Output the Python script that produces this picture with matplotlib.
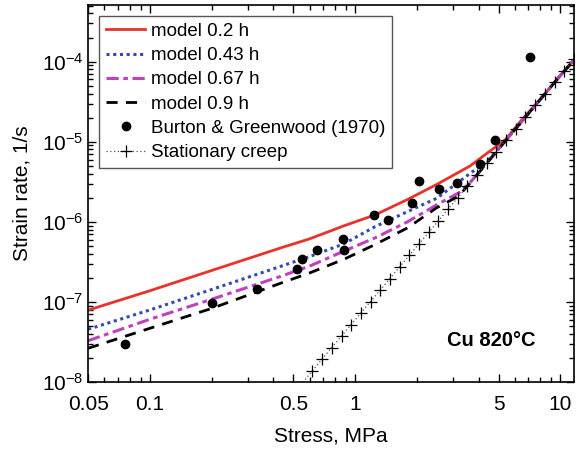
import numpy as np
import matplotlib
matplotlib.use("Agg")
import matplotlib.pyplot as plt
from matplotlib.ticker import LogLocator, NullFormatter, FixedLocator, FixedFormatter

plt.rcParams['font.family'] = ['Liberation Sans', 'DejaVu Sans']
plt.rcParams['mathtext.fontset'] = 'custom'
plt.rcParams['mathtext.rm'] = 'Liberation Sans'
plt.rcParams['mathtext.it'] = 'Liberation Sans:italic'

# model curves (stress in MPa, strain rate in 1/s)
stress_model = [0.05, 0.1, 0.2, 0.43, 0.6, 0.88, 1.25, 1.8, 2.5, 3.2, 3.64,
                4.4, 5.4, 6.4, 8.0, 10.0, 11.7]
rate_02h = [7.9e-8, 1.38e-7, 2.47e-7, 4.69e-7, 6.13e-7, 8.9e-7, 1.22e-6, 1.9e-6,
            2.93e-6, 4.16e-6, 5.0e-6, 7.2e-6, 1.06e-5, 1.8e-5, 3.4e-5, 6.7e-5, 1.06e-4]
rate_043h = [4.56e-8, 7.94e-8, 1.43e-7, 2.76e-7, 3.68e-7, 5.3e-7, 8.7e-7, 1.34e-6,
             1.97e-6, 3.15e-6, 4.04e-6, 5.7e-6, 1.03e-5, 1.71e-5, 3.39e-5, 6.68e-5, 1.06e-4]
rate_067h = [3.28e-8, 6.08e-8, 1.08e-7, 2.07e-7, 2.8e-7, 4.3e-7, 6.3e-7, 1.0e-6,
             1.63e-6, 2.3e-6, 3.1e-6, 5.5e-6, 1.02e-5, 1.71e-5, 3.39e-5, 6.68e-5, 1.06e-4]
rate_09h = [2.64e-8, 4.69e-8, 8.3e-8, 1.7e-7, 2.3e-7, 3.4e-7, 5.2e-7, 8.4e-7,
            1.5e-6, 2.1e-6, 3.07e-6, 5.45e-6, 1.02e-5, 1.71e-5, 3.39e-5, 6.68e-5, 1.06e-4]

# Burton & Greenwood (1970) data
stress_exp = [0.0755, 0.2, 0.331, 0.519, 0.55, 0.65, 0.877, 0.884, 1.243, 1.454,
              1.89, 2.04, 2.55, 3.13, 4.07, 4.8, 7.08]
rate_exp = [2.99e-8, 9.8e-8, 1.45e-7, 2.56e-7, 3.45e-7, 4.47e-7, 6.08e-7, 4.47e-7,
            1.22e-6, 1.04e-6, 1.74e-6, 3.25e-6, 2.56e-6, 3.05e-6, 5.3e-6, 1.04e-5, 1.15e-4]

# stationary creep
stress_st = [0.499, 0.619, 0.690, 0.769, 0.859, 0.957, 1.067, 1.189, 1.327, 1.479,
             1.648, 1.837, 2.047, 2.286, 2.547, 2.838, 3.162, 3.524, 3.936, 4.385,
             4.887, 5.445, 6.067, 6.761, 7.551, 8.414, 9.376, 10.45, 11.64]
rate_st = [7.1e-9, 1.38e-8, 1.93e-8, 2.69e-8, 3.74e-8, 5.21e-8, 7.26e-8, 1.01e-7,
           1.41e-7, 1.96e-7, 2.74e-7, 3.81e-7, 5.31e-7, 7.40e-7, 1.03e-6, 1.44e-6,
           2.00e-6, 2.79e-6, 3.88e-6, 5.41e-6, 7.53e-6, 1.05e-5, 1.46e-5, 2.04e-5,
           2.84e-5, 3.95e-5, 5.51e-5, 7.67e-5, 1.07e-4]

x_ticks = [0.05, 0.1, 0.5, 1, 5, 10]
x_ticklabels = ['0.05', '0.1', '0.5', '1', '5', '10']

fig = plt.figure(figsize=(5.76, 4.5), dpi=100)
ax = fig.add_axes([0.153, 0.151, 0.844, 0.838])

ax.plot(stress_model, rate_02h, color='#e8332b', lw=2.0, label='model 0.2 h')
ax.plot(stress_model, rate_043h, color='#3548b8', lw=2.2, ls=(0, (1, 1.2)),
        label='model 0.43 h')
ax.plot(stress_model, rate_067h, color='#c040c0', lw=2.2, ls=(0, (4, 1.5, 1.5, 1.5)),
        label='model 0.67 h')
ax.plot(stress_model, rate_09h, color='black', lw=2.0, ls=(0, (4, 3)),
        label='model 0.9 h')
ax.plot(stress_exp, rate_exp, 'o', color='black', ms=6, ls='none',
        label='Burton & Greenwood (1970)')
ax.plot(stress_st, rate_st, color='#555555', lw=0.9, ls=(0, (1, 2)),
        marker='+', ms=8, mec='black', mew=0.9, label='Stationary creep')

ax.set_xscale('log')
ax.set_yscale('log')
ax.set_xlim(0.05, 11.7)
ax.set_ylim(1e-8, 5.1e-4)

ax.xaxis.set_major_locator(FixedLocator(x_ticks))
ax.xaxis.set_major_formatter(FixedFormatter(x_ticklabels))
ax.xaxis.set_minor_locator(LogLocator(base=10, subs=np.arange(1, 10)))
ax.xaxis.set_minor_formatter(NullFormatter())
ax.yaxis.set_major_locator(LogLocator(base=10, numticks=10))
ax.yaxis.set_minor_locator(LogLocator(base=10, subs=np.arange(2, 10), numticks=20))
ax.yaxis.set_minor_formatter(NullFormatter())

ax.tick_params(which='both', direction='in', top=True, right=True, labelsize=15,
               width=1.0)
ax.tick_params(which='major', length=6)
ax.tick_params(which='minor', length=3.5)
ax.tick_params(axis='x', which='major', pad=9)
for sp in ax.spines.values():
    sp.set_linewidth(1.2)

ax.set_xlabel('Stress, MPa', fontsize=15, labelpad=9)
ax.set_ylabel('Strain rate, 1/s', fontsize=15, labelpad=7)

ax.text(0.829, 0.109, 'Cu 820\u00b0C', transform=ax.transAxes, fontsize=14.5,
        fontweight='bold', ha='center', va='center')

leg = ax.legend(loc='upper left', fontsize=13.5, frameon=True, fancybox=False,
                edgecolor='#555555', framealpha=1, borderaxespad=0.6,
                handlelength=2.1, handletextpad=0.3, labelspacing=0.38,
                borderpad=0.35)
leg.get_frame().set_linewidth(1.0)

fig.savefig('out.png', dpi=100)
